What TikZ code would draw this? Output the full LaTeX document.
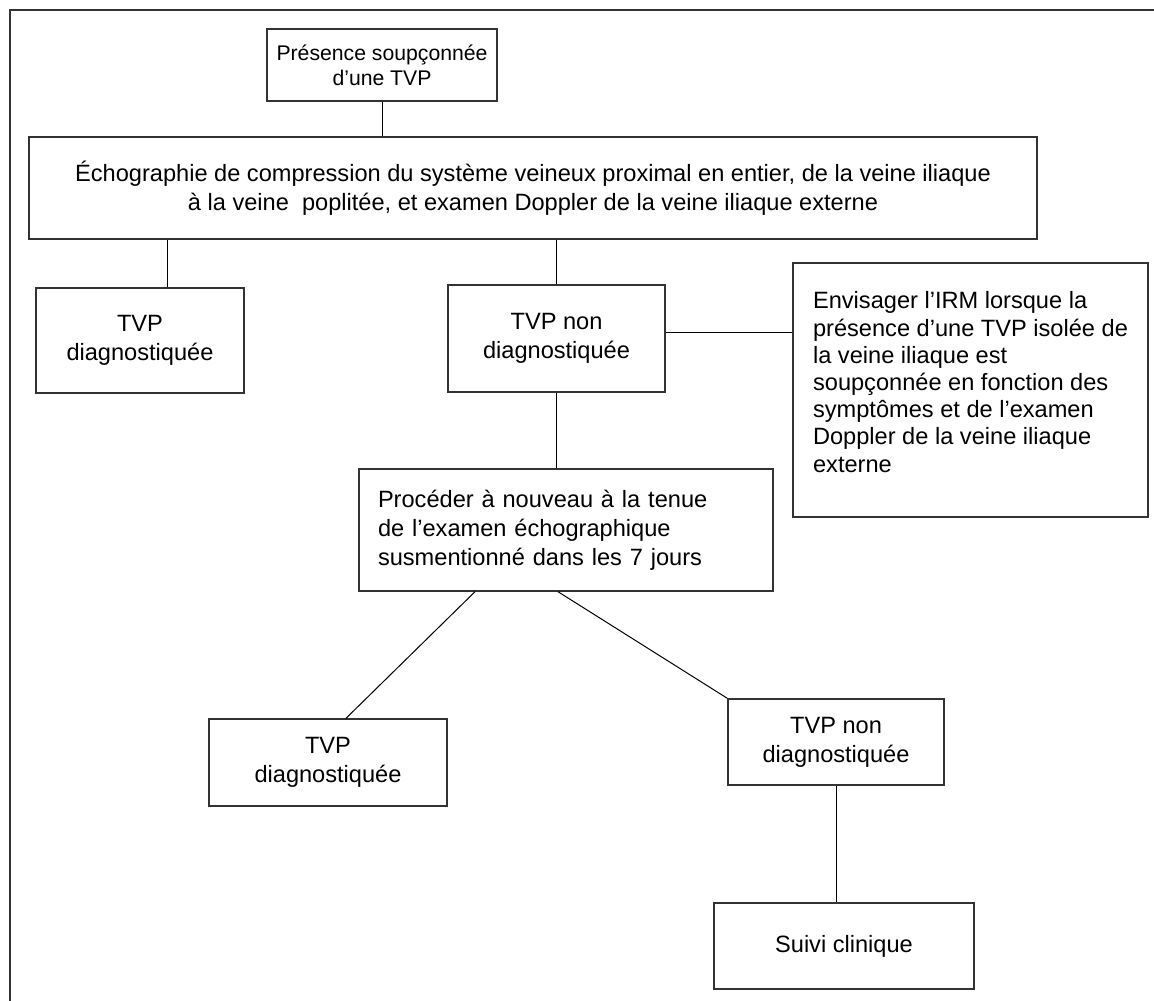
\documentclass[tikz,border=0pt]{standalone}
\usepackage{fontspec}
\setmainfont{Liberation Sans}
\usepackage{tikz}
\usetikzlibrary{positioning}

\begin{document}
\begin{tikzpicture}[x=0.5pt, y=-0.5pt,
  box/.style={draw=black!80, line width=0.7pt, align=center, inner sep=0pt,
    font=\fontsize{11.8}{14.4}\selectfont},
  link/.style={line width=0.5pt}]
  \useasboundingbox (0,0) rectangle (1154,1000);
  \draw [line width=0.8pt, draw=black!80] (1160,10) -- (10,10) -- (10,1006);

  \node (presence) at (382,65) [box, minimum width=115pt, minimum height=36pt,
    font=\fontsize{10.6}{12.4}\selectfont] {Présence soupçonnée\\d’une TVP};
  \node (echo) at (533,188) [box, minimum width=504pt, minimum height=51pt]
    {Échographie de compression du système veineux proximal en entier, de la veine iliaque\\
     à la veine~ poplitée, et examen Doppler de la veine iliaque externe};
  \node (diagA) at (140,340.5) [box, minimum width=104pt, minimum height=52.5pt]
    {TVP\\diagnostiquée};
  \node (nondiagA) at (556.5,338.5) [box, minimum width=108.5pt, minimum height=53.5pt]
    {TVP non\\diagnostiquée};
  \node (irm) at (970.5,390) [box, align=left, minimum width=177.5pt, minimum height=127pt,
    text depth=8pt, font=\fontsize{11.8}{13.6}\selectfont]
    {Envisager l’IRM lorsque la\\présence d’une TVP isolée de\\la veine iliaque est\\
     soupçonnée en fonction des\\symptômes et de l’examen\\Doppler de la veine iliaque\\externe};
  \node (proceder) at (566,530) [box, align=left, text width=188pt, inner xsep=9.5pt,
    minimum height=61pt]
    {Procéder à nouveau à la tenue\\de l’examen échographique\\susmentionné dans les 7 jours};
  \node (diagB) at (328,762.5) [box, minimum width=119pt, minimum height=43.5pt]
    {TVP\\diagnostiquée};
  \node (nondiagB) at (836,742) [box, minimum width=108pt, minimum height=43pt]
    {TVP non\\diagnostiquée};
  \node (suivi) at (844,946) [box, minimum width=130pt, minimum height=43pt]
    {Suivi clinique};

  \draw [link] (presence.south) -- (presence.south |- echo.north);
  \draw [link] (echo.south -| 167,0) -- (diagA.north -| 167,0);
  \draw [link] (echo.south -| nondiagA.north) -- (nondiagA.north);
  \draw [link] (nondiagA.east |- 0,332) -- (irm.west |- 0,332);
  \draw [link] (nondiagA.south) -- (nondiagA.south |- proceder.north);
  \draw [link] (proceder.south -| 475,0) -- (diagB.north -| 346,0);
  \draw [link] (proceder.south -| 558,0) -- (nondiagB.north west);
  \draw [link] (nondiagB.south) -- (nondiagB.south |- suivi.north);
\end{tikzpicture}
\end{document}
